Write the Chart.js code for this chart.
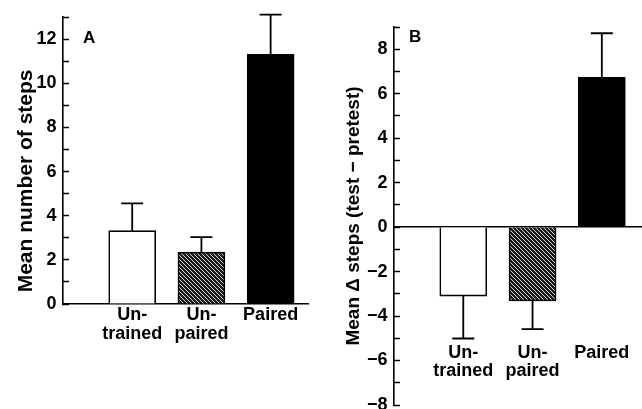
<!DOCTYPE html>
<html><head><meta charset="utf-8">
<script src="https://cdn.jsdelivr.net/npm/chart.js@4/dist/chart.umd.min.js"></script>
<style>
html,body{margin:0;padding:0;background:#fff;}
#wrap{position:relative;width:642px;height:409px;overflow:hidden;}
#ca{position:absolute;left:0;top:0;}
#cb{position:absolute;left:320px;top:0;}
</style></head><body>
<div id="wrap">
<canvas id="ca" width="320" height="409"></canvas>
<canvas id="cb" width="322" height="409"></canvas>
</div>
<script>
// ---- data ----
const categories = [["Un-", "trained"], ["Un-", "paired"], ["Paired"]];
const positions = [1, 2, 3];
const meanStepsA = [3.32, 2.35, 11.31];
const semA = [1.24, 0.68, 1.80];
const meanDeltaB = [-3.10, -3.32, 6.74];
const semB = [1.91, 1.27, 1.98];
const yTickValuesA = [0,1,2,3,4,5,6,7,8,9,10,11,12,13];
const yLabelValuesA = [0,2,4,6,8,10,12];
const yTickValuesB = [-8,-7,-6,-5,-4,-3,-2,-1,0,1,2,3,4,5,6,7,8,9];
const yLabelValuesB = [-8,-6,-4,-2,0,2,4,6,8];
const titleA = "Mean number of steps";
const titleB = "Mean \u0394 steps (test \u2212 pretest)";

const FONT = '"Liberation Sans", Arial, sans-serif';

function hatchPattern() {
  const c = document.createElement('canvas');
  c.width = 4; c.height = 4;
  const g = c.getContext('2d');
  g.fillStyle = '#1e1e1e'; g.fillRect(0, 0, 4, 4);
  g.strokeStyle = '#d0d0d0'; g.lineWidth = 1;
  g.beginPath(); g.moveTo(-1, -1); g.lineTo(5, 5); g.stroke();
  return g.createPattern(c, 'repeat');
}
const hatch = hatchPattern();

function fmt(v) { return v < 0 ? '\u2212' + (-v) : String(v); }

const errorBars = {
  id: 'errorBars',
  afterDatasetsDraw(chart, args, o) {
    const meta = chart.getDatasetMeta(0);
    const ys = chart.scales.y;
    const ctx = chart.ctx;
    ctx.save();
    ctx.strokeStyle = '#000';
    ctx.lineWidth = 1.8;
    meta.data.forEach((bar, i) => {
      const m = o.means[i], e = o.errors[i];
      const end = m >= 0 ? m + e : m - e;
      const x = bar.x;
      const y0 = ys.getPixelForValue(m), y1 = ys.getPixelForValue(end);
      ctx.beginPath();
      ctx.moveTo(x, y0); ctx.lineTo(x, y1);
      ctx.moveTo(x - o.cap / 2, y1); ctx.lineTo(x + o.cap / 2, y1);
      ctx.stroke();
    });
    ctx.restore();
  }
};

const panelLetter = {
  id: 'panelLetter',
  afterDraw(chart, args, o) {
    const ctx = chart.ctx;
    ctx.save();
    ctx.font = 'bold 17px ' + FONT;
    ctx.fillStyle = '#000';
    ctx.textBaseline = 'top';
    ctx.textAlign = 'left';
    ctx.fillText(o.text, chart.chartArea.left + o.dx, chart.chartArea.top + o.dy);
    ctx.restore();
  }
};

function yAxis(min, max, tickVals, labelVals, title, titleSize, titlePad, titleAlign, width) {
  return {
    type: 'linear', position: 'left', min: min, max: max,
    afterBuildTicks: s => { s.ticks = tickVals.map(v => ({ value: v })); },
    afterFit: s => { s.width = width; s.paddingTop = 0; s.paddingBottom = 0; },
    grid: { display: true, drawOnChartArea: false, drawTicks: true, tickLength: -6, tickColor: '#000', tickWidth: 1.5 },
    border: { display: true, color: '#000', width: 1.6 },
    ticks: {
      autoSkip: false, padding: 12.5, color: '#000',
      font: { family: FONT, size: 18, weight: 'bold' },
      callback: v => labelVals.includes(v) ? fmt(v) : ''
    },
    title: {
      display: true, text: title, color: '#000', align: titleAlign,
      font: { family: FONT, size: titleSize, weight: 'bold' },
      padding: { top: titlePad, bottom: 0 }
    }
  };
}

function xAxis(min, max, position, pad, height) {
  return {
    type: 'linear', min: min, max: max, offset: false, position: position,
    afterBuildTicks: s => { s.ticks = positions.map(v => ({ value: v })); },
    afterFit: s => { if (height) s.height = height; s.paddingLeft = 0; s.paddingRight = 0; },
    grid: { display: false, drawTicks: false },
    border: { display: true, color: '#000', width: 1.6 },
    ticks: {
      autoSkip: false, maxRotation: 0, padding: pad, color: '#000',
      font: { family: FONT, size: 18, weight: 'bold', lineHeight: 1.05 },
      callback: v => { const i = positions.indexOf(v); return i >= 0 ? categories[i] : ''; }
    }
  };
}

function barData(values) {
  return {
    datasets: [{
      data: positions.map((p, i) => ({ x: p, y: values[i] })),
      backgroundColor: ['#ffffff', hatch, '#000000'],
      borderColor: '#000', borderWidth: 1.6, borderSkipped: 'start',
      barThickness: 47
    }]
  };
}

new Chart(document.getElementById('ca'), {
  type: 'bar',
  data: barData(meanStepsA),
  options: {
    responsive: false, animation: false,
    layout: { padding: { left: 0, top: 17, right: 12, bottom: 0 } },
    plugins: {
      legend: { display: false }, tooltip: { enabled: false },
      errorBars: { means: meanStepsA, errors: semA, cap: 22 },
      panelLetter: { text: 'A', dx: 20, dy: 13 }
    },
    scales: {
      x: xAxis(0, 3.54, 'bottom', 2, 105),
      y: yAxis(0, 13, yTickValuesA, yLabelValuesA, '  ' + titleA, 21, 13.4, 'start', 63)
    }
  },
  plugins: [errorBars, panelLetter]
});

new Chart(document.getElementById('cb'), {
  type: 'bar',
  data: barData(meanDeltaB),
  options: {
    responsive: false, animation: false,
    layout: { padding: { left: 0, top: 27, right: 0, bottom: 4 } },
    plugins: {
      legend: { display: false }, tooltip: { enabled: false },
      errorBars: { means: meanDeltaB, errors: semB, cap: 22 },
      panelLetter: { text: 'B', dx: 15, dy: 2 }
    },
    scales: {
      x: xAxis(0, 3.58, { y: 0 }, 116, null),
      y: yAxis(-8, 9, yTickValuesB, yLabelValuesB, titleB, 19, 22, 'center', 74)
    }
  },
  plugins: [errorBars, panelLetter]
});
</script>
</body></html>
